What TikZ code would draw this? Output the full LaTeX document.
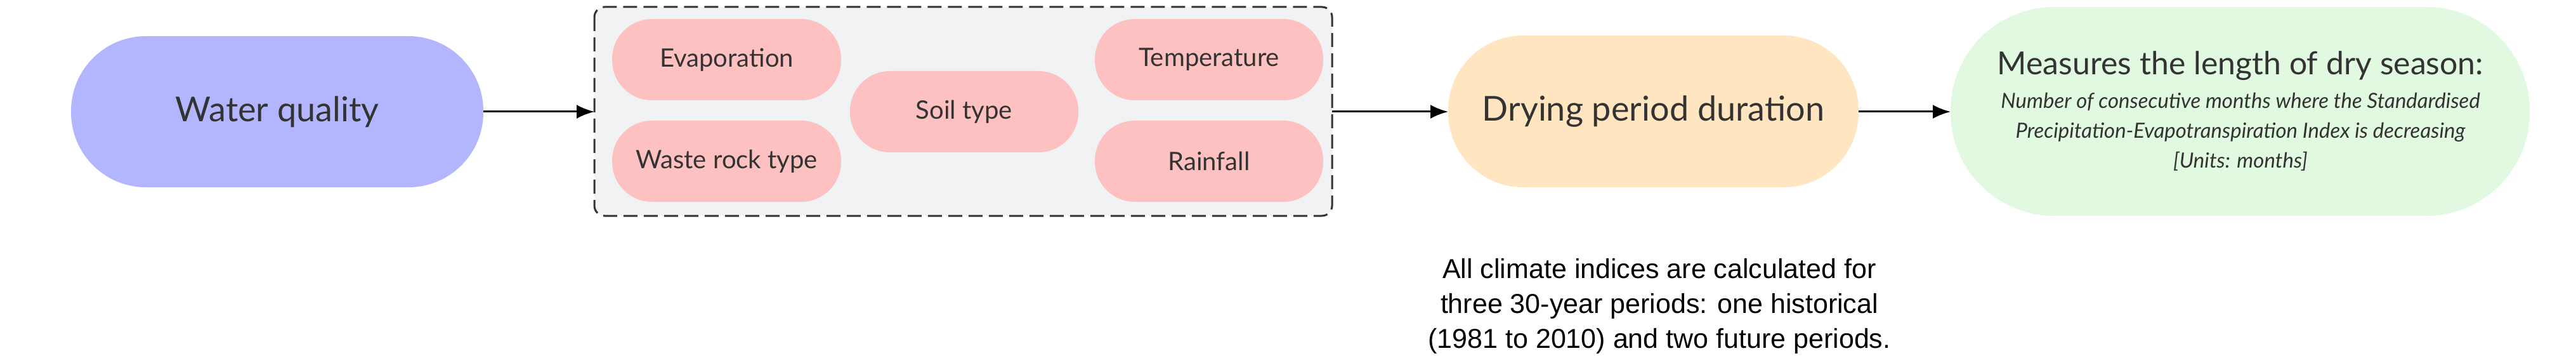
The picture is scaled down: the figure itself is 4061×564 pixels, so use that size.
\documentclass[tikz,border=0pt]{standalone}
\usepackage{fontspec}
\setmainfont{Lato}
\newfontfamily\arialf{Liberation Sans}
\usetikzlibrary{arrows.meta}
\definecolor{pinkc}{HTML}{FDC1C1}
\definecolor{bluec}{HTML}{B3B5FE}
\definecolor{orangec}{HTML}{FFE5C0}
\definecolor{greenc}{HTML}{E1F9E1}
\definecolor{grpc}{HTML}{F1F2F4}
\newcommand{\stadium}[7]{% name,x1,y1,x2,y2,color,radius
  \fill[#6,rounded corners=#7pt] (#2,#3) rectangle (#4,#5);
  \coordinate (#1) at ({(#2+#4)/2},{(#3+#5)/2});}
\begin{document}
\begin{tikzpicture}[x=1pt,y=-1pt,
  stad/.style={draw=none,text=black!80,font=\fontsize{54}{60}\selectfont},
  small/.style={draw=none,text=black!80,font=\fontsize{40}{46}\selectfont},
  arr/.style={-{Latex[length=28pt,width=22pt]},line width=3pt}]
\useasboundingbox (0,0) rectangle (4061,564);
\draw[fill=grpc,draw=black!80,dash pattern=on 22pt off 10pt,line width=3pt,rounded corners=16pt] (937,11) rectangle (2100,340);
\coordinate (grpW) at (937,176);
\coordinate (grpE) at (2100,176);
\stadium{wq}{112}{57}{762}{295}{bluec}{118}
\stadium{ev}{965}{30}{1326}{158}{pinkc}{63}
\stadium{wr}{965}{190}{1326}{318}{pinkc}{63}
\stadium{so}{1340}{112}{1700}{240}{pinkc}{63}
\stadium{te}{1726}{30}{2086}{158}{pinkc}{63}
\stadium{ra}{1726}{190}{2086}{318}{pinkc}{63}
\stadium{dr}{2283}{56}{2930}{295}{orangec}{118}
\stadium{gr}{3075}{11}{3988}{340}{greenc}{163}
\node[stad] at (wq) {Water quality};
\node[stad] at (dr) {Drying period duration};
\node[small] at (ev) {Evaporation};
\node[small] at (wr) {Waste rock type};
\node[small] at (so) {Soil type};
\node[small] at (te) {Temperature};
\node[small] at (ra) {Rainfall};
\node[text=black!80,align=center,font=\fontsize{50}{56}\selectfont] (grt) at (3532,104) {Measures the length of dry season:};
\node[text=black!80,align=center,font=\fontsize{33}{47}\selectfont\itshape] (grb) at (3532,208) {Number of consecutive months where the Standardised\\Precipitation-Evapotranspiration Index is decreasing\\{[Units: months]}};
\draw[arr] (wq.center) ++(325,0) -- (grpW);
\draw[arr] (grpE) -- (2283,176);
\draw[arr] (2930,176) -- (3075,176);
\node[align=center,font=\arialf\fontsize{43}{55}\selectfont] (note) at (2616,482) {All climate indices are calculated for\\three 30-year periods: one historical\\(1981 to 2010) and two future periods.};
\end{tikzpicture}
\end{document}
